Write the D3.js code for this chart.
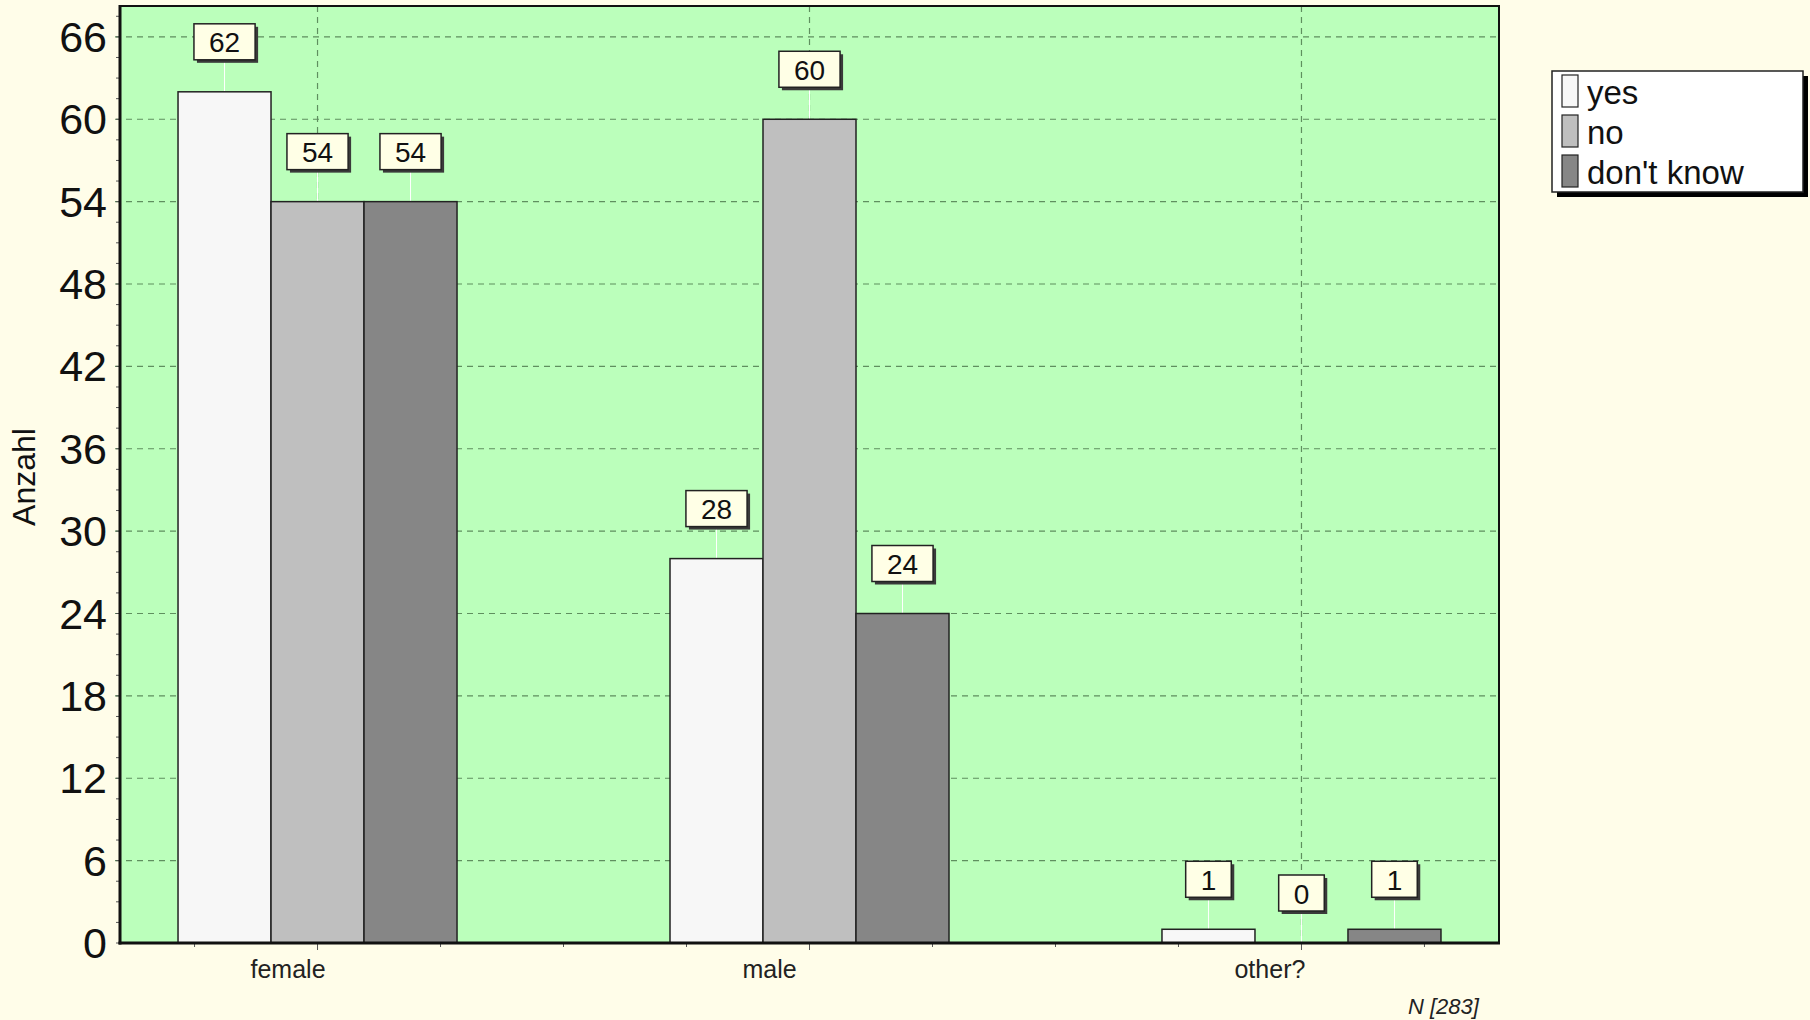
<!DOCTYPE html>
<html>
<head>
<meta charset="utf-8">
<script src="https://cdn.jsdelivr.net/npm/d3@7"></script>
<style>
  html, body { margin: 0; padding: 0; background: #fffde9; }
  svg { display: block; font-family: "Liberation Sans", Arial, sans-serif; }
</style>
</head>
<body>
<svg id="chart" width="1810" height="1020"></svg>
<script>
const categories = ["female", "male", "other?"];
const seriesNames = ["yes", "no", "don't know"];
const yesValues = [62, 28, 1];
const noValues = [54, 60, 0];
const dontKnowValues = [54, 24, 1];
const yTickValues = [0, 6, 12, 18, 24, 30, 36, 42, 48, 54, 60, 66];
const yAxisTitle = "Anzahl";
const footnote = "N [283]";

const seriesValues = [yesValues, noValues, dontKnowValues];
const colors = ["#f7f7f7", "#bfbfbf", "#868686"];

const svg = d3.select("#chart");
const W = 1810, H = 1020;
svg.append("rect").attr("width", W).attr("height", H).attr("fill", "#fffde9");

const plot = { left: 120, right: 1499, top: 6, bottom: 943 };

const y = d3.scaleLinear().domain([0, 68.25]).range([plot.bottom, plot.top]);
const x0 = d3.scalePoint().domain(categories).range([plot.left, plot.right]).padding(0.4015);
const groupWidth = 279;
const x1 = d3.scaleBand().domain(seriesNames).range([-groupWidth / 2, groupWidth / 2]);

// plot background
svg.append("rect")
  .attr("x", plot.left).attr("y", plot.top)
  .attr("width", plot.right - plot.left).attr("height", plot.bottom - plot.top)
  .attr("fill", "#bbffbb");

// horizontal grid
const gridColor = "#5f8f5f";
svg.append("g").selectAll("line").data(yTickValues.filter(v => v > 0)).join("line")
  .attr("x1", plot.left - 5).attr("x2", plot.right)
  .attr("y1", d => y(d)).attr("y2", d => y(d))
  .attr("stroke", gridColor).attr("stroke-width", 1.2).attr("stroke-dasharray", "6,5");
// vertical grid at category centers
svg.append("g").selectAll("line").data(categories).join("line")
  .attr("x1", d => x0(d)).attr("x2", d => x0(d))
  .attr("y1", plot.top).attr("y2", plot.bottom)
  .attr("stroke", gridColor).attr("stroke-width", 1.2).attr("stroke-dasharray", "6,5");

// y minor ticks
const minorY = d3.range(0, 68.25, 1.5);
svg.append("g").selectAll("line").data(minorY).join("line")
  .attr("x1", plot.left - 4).attr("x2", plot.left)
  .attr("y1", d => y(d)).attr("y2", d => y(d))
  .attr("stroke", "#555").attr("stroke-width", 1);

// x minor ticks
const idx = d3.scaleLinear().domain([0, categories.length - 1]).range([x0(categories[0]), x0(categories[categories.length - 1])]);
const xTickIdx = d3.range(-0.25, categories.length - 1 + 0.26, 0.25);
svg.append("g").selectAll("line").data(xTickIdx).join("line")
  .attr("x1", d => idx(d)).attr("x2", d => idx(d))
  .attr("y1", plot.bottom).attr("y2", d => plot.bottom + (Math.abs(d - Math.round(d)) < 1e-6 ? 7 : 4))
  .attr("stroke", "#555").attr("stroke-width", 1);

// bars
const groups = svg.append("g").selectAll("g").data(categories).join("g")
  .attr("transform", d => `translate(${x0(d)},0)`);

const barData = (c, ci) => seriesNames.map((s, si) => ({ cat: c, series: s, si, value: seriesValues[si][ci] }));

groups.each(function (c, ci) {
  const g = d3.select(this);
  const data = barData(c, ci);
  // connector lines
  g.selectAll("line.conn").data(data).join("line").attr("class", "conn")
    .attr("x1", d => x1(d.series) + x1.bandwidth() / 2)
    .attr("x2", d => x1(d.series) + x1.bandwidth() / 2)
    .attr("y1", d => y(d.value) - 32).attr("y2", d => y(d.value))
    .attr("stroke", "#ffffff").attr("stroke-width", 1);
  g.selectAll("rect.bar").data(data.filter(d => d.value > 0)).join("rect").attr("class", "bar")
    .attr("x", d => x1(d.series)).attr("width", x1.bandwidth())
    .attr("y", d => y(d.value)).attr("height", d => y(0) - y(d.value))
    .attr("fill", d => colors[d.si]).attr("stroke", "#222").attr("stroke-width", 1.5);
});

// axis lines (thick left & bottom, thinner top & right)
svg.append("rect")
  .attr("x", plot.left).attr("y", plot.top)
  .attr("width", plot.right - plot.left).attr("height", plot.bottom - plot.top)
  .attr("fill", "none").attr("stroke", "#111").attr("stroke-width", 2);
svg.append("line").attr("x1", plot.left).attr("x2", plot.left).attr("y1", plot.top - 1).attr("y2", plot.bottom + 1.5)
  .attr("stroke", "#111").attr("stroke-width", 3);
svg.append("line").attr("x1", plot.left - 1.5).attr("x2", plot.right + 1).attr("y1", plot.bottom).attr("y2", plot.bottom)
  .attr("stroke", "#111").attr("stroke-width", 3);

// value labels
groups.each(function (c, ci) {
  const g = d3.select(this);
  const data = barData(c, ci);
  const lbl = g.selectAll("g.lbl").data(data).join("g").attr("class", "lbl")
    .attr("transform", d => `translate(${x1(d.series) + x1.bandwidth() / 2},${y(d.value) - 32 - 18})`);
  lbl.each(function (d) {
    const lg = d3.select(this);
    const t = lg.append("text").text(d.value)
      .attr("text-anchor", "middle").attr("dominant-baseline", "central")
      .attr("y", 1).attr("font-size", 28).attr("fill", "#111");
    const tw = t.node().getComputedTextLength();
    const bw = tw + 30, bh = 36;
    lg.insert("rect", "text").attr("x", -bw / 2 + 3).attr("y", -bh / 2 + 3)
      .attr("width", bw).attr("height", bh).attr("fill", "#3a3a3a");
    lg.insert("rect", "text").attr("x", -bw / 2).attr("y", -bh / 2)
      .attr("width", bw).attr("height", bh).attr("fill", "#ffffe6")
      .attr("stroke", "#222").attr("stroke-width", 1.5);
  });
});

// y tick labels
svg.append("g").selectAll("text").data(yTickValues).join("text")
  .attr("x", 107).attr("y", d => y(d))
  .attr("text-anchor", "end").attr("dominant-baseline", "central")
  .attr("font-size", 43).attr("fill", "#111")
  .text(d => d);

// y axis title
svg.append("text")
  .attr("transform", "translate(35,477) rotate(-90)")
  .attr("text-anchor", "middle").attr("font-size", 32).attr("fill", "#111")
  .text(yAxisTitle);

// x category labels
svg.append("g").selectAll("text").data(categories).join("text")
  .attr("x", d => x0(d) - 67).attr("y", 978)
  .attr("text-anchor", "start").attr("font-size", 25).attr("fill", "#222")
  .text(d => d);

// footnote
svg.append("text").attr("x", 1408).attr("y", 1014)
  .attr("font-size", 22).attr("font-style", "italic").attr("fill", "#222")
  .text(footnote);

// legend
const lg = svg.append("g").attr("transform", "translate(1552,71)");
const lw = 251, lh = 121;
lg.append("rect").attr("x", 5).attr("y", 5).attr("width", lw).attr("height", lh).attr("fill", "#000");
lg.append("rect").attr("width", lw).attr("height", lh).attr("fill", "#ffffff").attr("stroke", "#222").attr("stroke-width", 1.5);
const items = lg.selectAll("g.item").data(seriesNames).join("g").attr("class", "item")
  .attr("transform", (d, i) => `translate(10,${4 + i * 40})`);
items.append("rect").attr("width", 16).attr("height", 32)
  .attr("fill", (d, i) => colors[i]).attr("stroke", "#222").attr("stroke-width", 1.2);
items.append("text").attr("x", 25).attr("y", 29).attr("font-size", 33).attr("fill", "#111").text(d => d);
</script>
</body>
</html>
